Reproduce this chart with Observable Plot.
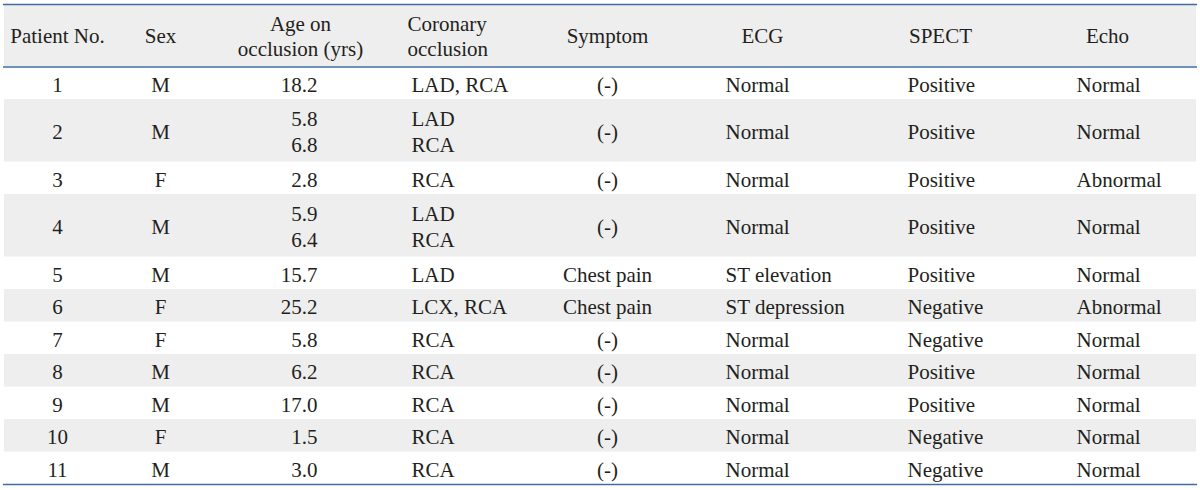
<!DOCTYPE html>
<html><head><meta charset="utf-8">
<script src="https://cdn.jsdelivr.net/npm/d3@7"></script>
<script src="https://cdn.jsdelivr.net/npm/@observablehq/plot@0.6"></script>
<style>html,body{margin:0;padding:0;background:#fff}</style>
</head><body><div id="chart"></div>
<script>
// ---- data ----
const headers = ["Patient No.", "Sex", "Age on\nocclusion (yrs)", "Coronary\nocclusion", "Symptom", "ECG", "SPECT", "Echo"];
const patientNo = [1, 2, 3, 4, 5, 6, 7, 8, 9, 10, 11];
const sex = ["M", "M", "F", "M", "M", "F", "F", "M", "M", "F", "M"];
const ageOnOcclusion = [[18.2], [5.8, 6.8], [2.8], [5.9, 6.4], [15.7], [25.2], [5.8], [6.2], [17.0], [1.5], [3.0]];
const coronaryOcclusion = [["LAD, RCA"], ["LAD", "RCA"], ["RCA"], ["LAD", "RCA"], ["LAD"], ["LCX, RCA"], ["RCA"], ["RCA"], ["RCA"], ["RCA"], ["RCA"]];
const symptom = ["(-)", "(-)", "(-)", "(-)", "Chest pain", "Chest pain", "(-)", "(-)", "(-)", "(-)", "(-)"];
const ecg = ["Normal", "Normal", "Normal", "Normal", "ST elevation", "ST depression", "Normal", "Normal", "Normal", "Normal", "Normal"];
const spect = ["Positive", "Positive", "Positive", "Positive", "Positive", "Negative", "Negative", "Positive", "Positive", "Negative", "Negative"];
const echo = ["Normal", "Normal", "Abnormal", "Normal", "Normal", "Abnormal", "Normal", "Normal", "Normal", "Normal", "Normal"];

// ---- layout (pixel positions, separate from data) ----
const headerX = [57, 160, 300, 407, 607, 762, 940, 1107];
const headerAnchor = ["middle", "middle", "middle", "start", "middle", "middle", "middle", "middle"];
const bodyX = [57, 160, 317, 411, 607, 725, 907, 1076];
const bodyAnchor = ["middle", "middle", "end", "start", "middle", "start", "start", "start"];
const tableLeft = 4, tableRight = 1196;
const headerTop = 4, headerBottom = 66.5;
const singleH = 32.5, doubleH = 62.5;
const FONT = "Liberation Serif, Times New Roman, serif";
const INK = "#231f20";
const LINE = "#3f6e9f";
const SHADE = "#eeeeee";

// ---- build table structures ----
const columns = [
  patientNo.map(String),
  sex,
  ageOnOcclusion.map(a => a.map(v => v.toFixed(1)).join("\n")),
  coronaryOcclusion.map(a => a.join("\n")),
  symptom, ecg, spect, echo
];
const rows = [];
let cursorY = headerBottom;
patientNo.forEach((p, i) => {
  const nLines = Math.max(ageOnOcclusion[i].length, coronaryOcclusion[i].length);
  const h = nLines > 1 ? doubleH : singleH;
  rows.push({i, y1: cursorY, y2: cursorY + h, ym: cursorY + h / 2});
  cursorY += h;
});
const tableBottom = cursorY;

const shaded = [{y1: headerTop + 1, y2: headerBottom}].concat(rows.filter(r => r.i % 2 === 1));
const cells = [];
rows.forEach(r => columns.forEach((col, c) => cells.push({x: bodyX[c], y: r.ym, text: col[r.i], anchor: bodyAnchor[c]})));
const heads = headers.map((h, c) => ({x: headerX[c], y: (headerTop + headerBottom) / 2, text: h, anchor: headerAnchor[c]}));

const textOpts = {x: "x", y: "y", text: "text", fontFamily: FONT, fontSize: 21, fill: INK};
const anchors = ["start", "middle", "end"];

const chart = Plot.plot({
  width: 1200, height: 490,
  margin: 0,
  x: {type: "identity", axis: null},
  y: {type: "identity", axis: null},
  style: {background: "#fff"},
  marks: [
    Plot.rect(shaded, {x1: tableLeft, x2: tableRight, y1: "y1", y2: "y2", fill: SHADE}),
    Plot.ruleY([headerTop, headerBottom, tableBottom], {x1: tableLeft - 1, x2: tableRight + 1, stroke: LINE, strokeWidth: 1.6}),
    ...anchors.map(a => Plot.text(heads.filter(d => d.anchor === a), {...textOpts, textAnchor: a, lineHeight: 1.15})),
    ...anchors.map(a => Plot.text(cells.filter(d => d.anchor === a), {...textOpts, textAnchor: a, lineHeight: 1.24}))
  ]
});
document.getElementById("chart").appendChild(chart);
</script>
</body></html>
